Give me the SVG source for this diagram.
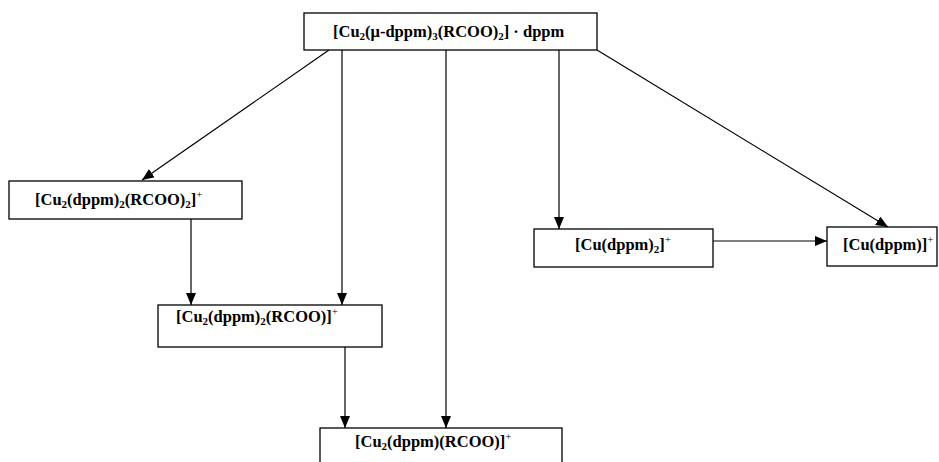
<svg xmlns="http://www.w3.org/2000/svg" width="939" height="462" viewBox="0 0 939 462">
<style>
.box{fill:#fff;stroke:#000;stroke-width:1.3}
.t{font-family:"Liberation Serif","Times New Roman",serif;font-weight:bold;font-size:16.5px;fill:#000}
.s{font-size:11px}
.p{font-size:11px;font-weight:normal}
.c{stroke:#000;stroke-width:1.2;fill:none;marker-end:url(#ah)}
</style>
<defs>
<marker id="ah" viewBox="0 0 12 10" refX="12" refY="5" markerWidth="12" markerHeight="10" markerUnits="userSpaceOnUse" orient="auto">
<path d="M0,0 L12,5 L0,10 Z" fill="#000"/>
</marker>
</defs>
<rect width="939" height="462" fill="#fff"/>
<g id="connectors">
<line class="c" x1="329" y1="50" x2="142" y2="180"/>
<line class="c" x1="342" y1="50" x2="342" y2="305"/>
<line class="c" x1="446" y1="50" x2="446" y2="428"/>
<line class="c" x1="559" y1="50" x2="559" y2="229"/>
<line class="c" x1="597" y1="50" x2="888" y2="227"/>
<line class="c" x1="191" y1="219" x2="191" y2="305"/>
<line class="c" x1="345" y1="347" x2="345" y2="428"/>
<line class="c" x1="713" y1="241" x2="827" y2="241"/>
</g>
<g id="n1">
<rect class="box" x="304" y="13" width="293" height="37"/>
<text class="t" x="333" y="37">[Cu<tspan class="s" dy="3">2</tspan><tspan dy="-3">(μ-dppm)</tspan><tspan class="s" dy="3">3</tspan><tspan dy="-3">(RCOO)</tspan><tspan class="s" dy="3">2</tspan><tspan dy="-3">] · dppm</tspan></text>
</g>
<g id="n2">
<rect class="box" x="9" y="181" width="233" height="38"/>
<text class="t" x="35" y="205">[Cu<tspan class="s" dy="3">2</tspan><tspan dy="-3">(dppm)</tspan><tspan class="s" dy="3">2</tspan><tspan dy="-3">(RCOO)</tspan><tspan class="s" dy="3">2</tspan><tspan dy="-3">]</tspan><tspan class="p" dy="-7">+</tspan></text>
</g>
<g id="n3">
<rect class="box" x="158" y="305" width="224" height="42"/>
<text class="t" x="176" y="322">[Cu<tspan class="s" dy="3">2</tspan><tspan dy="-3">(dppm)</tspan><tspan class="s" dy="3">2</tspan><tspan dy="-3">(RCOO)]</tspan><tspan class="p" dy="-7">+</tspan></text>
</g>
<g id="n4">
<rect class="box" x="320" y="428" width="242" height="40"/>
<text class="t" x="355" y="447">[Cu<tspan class="s" dy="3">2</tspan><tspan dy="-3">(dppm)(RCOO)]</tspan><tspan class="p" dy="-7">+</tspan></text>
</g>
<g id="n5">
<rect class="box" x="534" y="229" width="179" height="38"/>
<text class="t" x="575" y="250">[Cu(dppm)<tspan class="s" dy="3">2</tspan><tspan dy="-3">]</tspan><tspan class="p" dy="-7">+</tspan></text>
</g>
<g id="n6">
<rect class="box" x="827" y="227" width="110" height="39"/>
<text class="t" x="843" y="250">[Cu(dppm)]<tspan class="p" dy="-7">+</tspan></text>
</g>
</svg>
